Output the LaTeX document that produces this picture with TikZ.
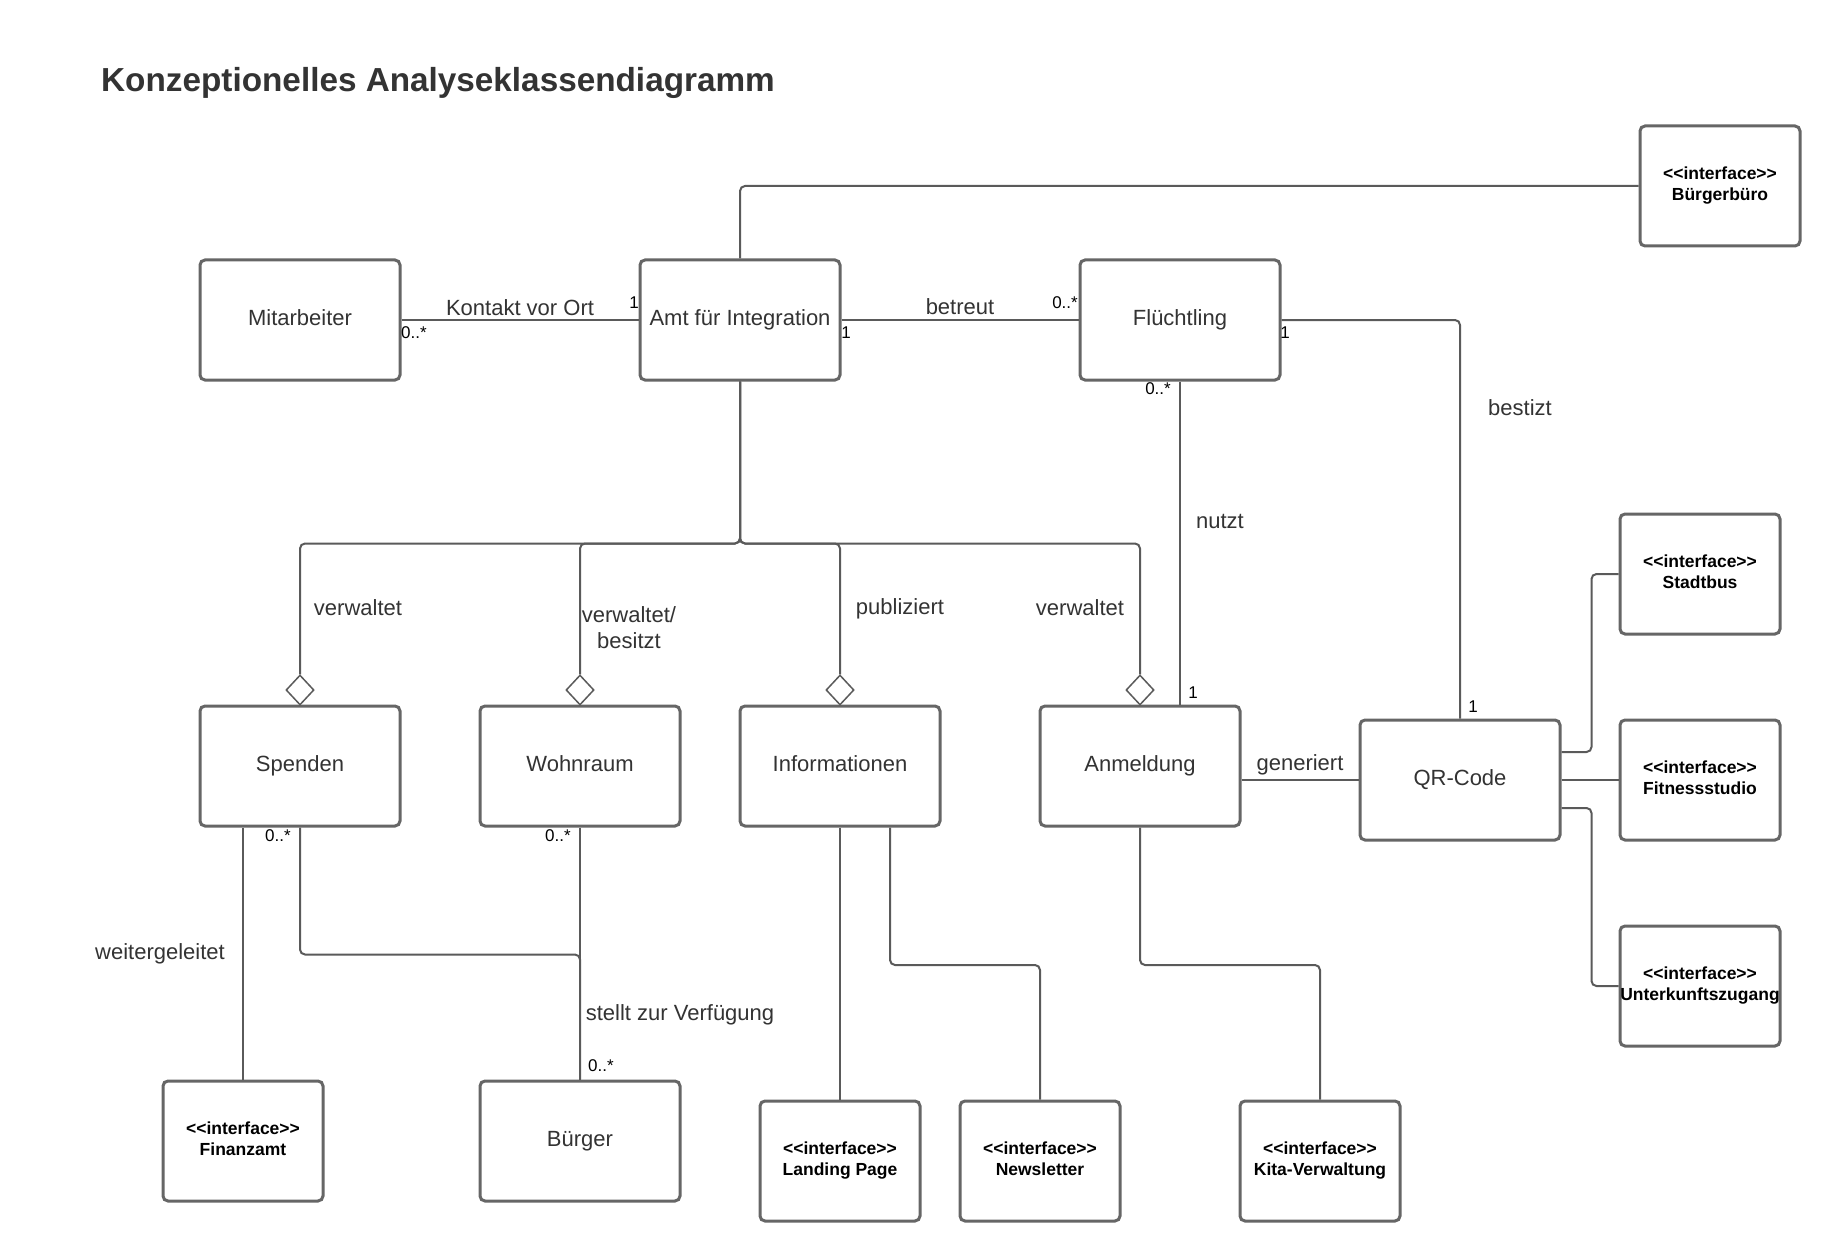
\documentclass[tikz,border=0pt]{standalone}
\usepackage{fontspec}
\setmainfont{Liberation Sans}[Ligatures=TeXOff]
\usetikzlibrary{shapes.geometric,calc}
\definecolor{boxc}{HTML}{666666}
\definecolor{linec}{HTML}{5A5A5A}
\definecolor{txt}{HTML}{333333}
\newcommand{\ifctext}[1]{<<interface>>\\#1\vphantom{gÜ}}
\begin{document}
\begin{tikzpicture}[x=1pt,y=-1pt,
  cls/.style={draw=boxc, line width=3pt, rounded corners=5pt, fill=white, minimum width=200pt, minimum height=120pt, inner sep=0pt, text=txt, font=\fontsize{22}{26}\selectfont, text height=16pt, text depth=5pt},
  ifc/.style={draw=boxc, line width=3pt, rounded corners=5pt, fill=white, minimum width=160pt, minimum height=120pt, inner sep=0pt, text=black, font=\bfseries\fontsize{17.5}{21}\selectfont, align=center},
  conn/.style={draw=linec, line width=2pt, rounded corners=5pt},
  lbl/.style={text=txt, font=\fontsize{22}{26}\selectfont, inner sep=0pt},
  mult/.style={text=black, font=\fontsize{17}{20}\selectfont, inner sep=0pt},
  agg/.style={diamond, draw=linec, line width=1.5pt, fill=white, minimum width=28pt, minimum height=30pt, inner sep=0pt}]
\fill[white] (0,0) rectangle (1840,1260);
\useasboundingbox (0,0) rectangle (1840,1260);

\node[anchor=west, inner sep=0pt, text=txt, font=\bfseries\fontsize{33.3}{40}\selectfont] (title) at (101,83) {Konzeptionelles Analyseklassendiagramm};

% classes
\node[cls] (mit) at (300,320) {Mitarbeiter};
\node[cls] (amt) at (740,320) {Amt für Integration};
\node[cls] (fl) at (1180,320) {Flüchtling};
\node[ifc] (bb) at (1720,186) {\ifctext{Bürgerbüro}};
\node[cls] (sp) at (300,766) {Spenden};
\node[cls] (wr) at (580,766) {Wohnraum};
\node[cls] (inf) at (840,766) {Informationen};
\node[cls] (anm) at (1140,766) {Anmeldung};
\node[cls] (qr) at (1460,780) {QR-Code};
\node[ifc] (sb) at (1700,574) {\ifctext{Stadtbus}};
\node[ifc] (fit) at (1700,780) {\ifctext{Fitnessstudio}};
\node[ifc] (uk) at (1700,986) {\ifctext{Unterkunftszugang}};
\node[ifc] (fin) at (243,1141) {\ifctext{Finanzamt}};
\node[cls] (bu) at (580,1141) {Bürger};
\node[ifc] (lp) at (840,1161) {\ifctext{Landing Page}};
\node[ifc] (nl) at (1040,1161) {\ifctext{Newsletter}};
\node[ifc] (kita) at (1320,1161) {\ifctext{Kita-Verwaltung}};

% aggregation diamonds
\node[agg] (d1) at (300,690) {};
\node[agg] (d2) at (580,690) {};
\node[agg] (d3) at (840,690) {};
\node[agg] (d4) at (1140,690) {};

% connectors
\draw[conn] (mit.east) -- (amt.west);
\draw[conn] (amt.east) -- (fl.west);
\draw[conn] (amt.north) |- (bb.west);
\draw[conn] (fl.east) -| (qr.north);
\draw[conn] (fl.south) -- (fl.south |- anm.north);
\draw[conn] (amt.south) -- ++(0,162) -| (d1.north);
\draw[conn] (amt.south) -- ++(0,162) -| (d2.north);
\draw[conn] (amt.south) -- ++(0,162) -| (d3.north);
\draw[conn] (amt.south) -- ++(0,162) -| (d4.north);
\draw[conn] (anm.east |- qr.west) -- (qr.west);
\draw[conn] ($(qr.east)+(0,-28)$) -- ++(30,0) |- (sb.west);
\draw[conn] (qr.east) -- (fit.west);
\draw[conn] ($(qr.east)+(0,28)$) -- ++(30,0) |- (uk.west);
\draw[conn] (fin.north |- sp.south) -- (fin.north);
\draw[conn] (sp.south) -- ++(0,127) -| (bu.north);
\draw[conn] (wr.south) -- (bu.north);
\draw[conn] (inf.south) -- (lp.north);
\draw[conn] ($(inf.south)+(50,0)$) -- ++(0,137.5) -| (nl.north);
\draw[conn] (anm.south) -- ++(0,137.5) -| (kita.north);

% labels
\node[lbl] (l1) at (520,308) {Kontakt vor Ort};
\node[lbl] (l2) at (960,307) {betreut};
\node[lbl] (l3) at (1520,408) {bestizt};
\node[lbl] (l4) at (1220,521) {nutzt};
\node[lbl] (l5) at (358,608) {verwaltet};
\node[lbl, align=center] (l6) at (629,628) {verwaltet/\\besitzt};
\node[lbl] (l7) at (900,609) {publiziert};
\node[lbl] (l8) at (1080,608) {verwaltet};
\node[lbl] (l9) at (1300,765) {generiert};
\node[lbl] (l10) at (160,954) {weitergeleitet};
\node[lbl] (l11) at (680,1015) {stellt zur Verfügung};

% multiplicities
\node[mult] (m1) at (414,333) {0..*};
\node[mult] (m2) at (634,303) {1};
\node[mult] (m3) at (846,333) {1};
\node[mult] (m4) at (1065,303) {0..*};
\node[mult] (m5) at (1285,333) {1};
\node[mult] (m6) at (1158,389) {0..*};
\node[mult] (m7) at (1193,693) {1};
\node[mult] (m8) at (1473,707) {1};
\node[mult] (m9) at (278,836) {0..*};
\node[mult] (m10) at (558,836) {0..*};
\node[mult] (m11) at (601,1066) {0..*};
\end{tikzpicture}
\end{document}
